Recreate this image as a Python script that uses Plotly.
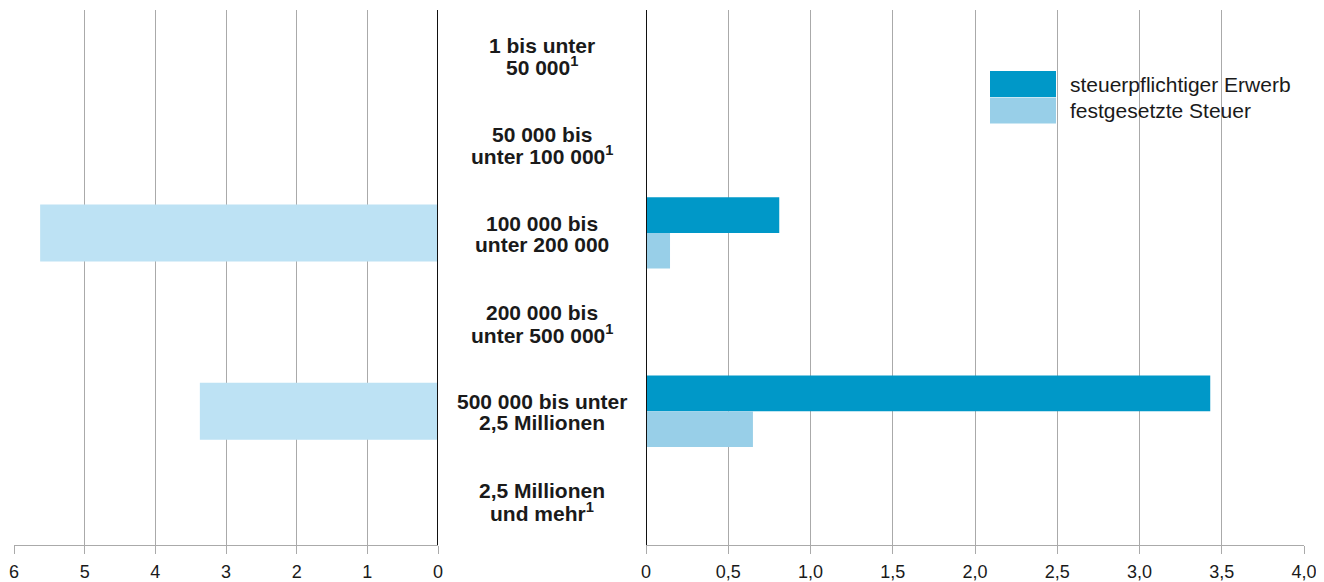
import plotly.graph_objects as go

categories = [
    "1 bis unter<br>50 000<sup>1</sup>",
    "50 000 bis<br>unter 100 000<sup>1</sup>",
    "100 000 bis<br>unter 200 000",
    "200 000 bis<br>unter 500 000<sup>1</sup>",
    "500 000 bis unter<br>2,5 Millionen",
    "2,5 Millionen<br>und mehr<sup>1</sup>",
]
cat_keys = ["c1", "c2", "c3", "c4", "c5", "c6"]

left_values = [None, None, 5.63, None, 3.37, None]
erwerb_values = [None, None, 0.81, None, 3.43, None]
steuer_values = [None, None, 0.146, None, 0.65, None]

left_ticks = [6, 5, 4, 3, 2, 1, 0]
left_ticktext = ["6", "5", "4", "3", "2", "1", "0"]
right_ticks = [0, 0.5, 1.0, 1.5, 2.0, 2.5, 3.0, 3.5, 4.0]
right_ticktext = ["0", "0,5", "1,0", "1,5", "2,0", "2,5", "3,0", "3,5", "4,0"]

legend_names = ["steuerpflichtiger Erwerb", "festgesetzte Steuer"]

C_DARK = "#0098c8"
C_LIGHT = "#98cfe8"
C_LEFT = "#bde2f4"
GRID = "#aaaaaa"
FONT = "Liberation Sans, Arial, sans-serif"

# the page body has an 8px default margin; size the figure to compensate
OFF = 8
W, H = 1324 - OFF, 582 - OFF
MT, MB = 10 - OFF, 37
PH = H - MT - MB


def px(xpx):
    return (xpx - OFF) / W


def py(ypx):
    return (H - MB - (ypx - OFF)) / PH


fig = go.Figure()

fig.add_trace(go.Bar(
    y=cat_keys, x=left_values, orientation="h", xaxis="x", yaxis="y",
    marker=dict(color=C_LEFT, line=dict(width=0)), width=0.64, offset=-0.32,
    showlegend=False, hoverinfo="x",
))
fig.add_trace(go.Bar(
    y=cat_keys, x=erwerb_values, orientation="h", xaxis="x2", yaxis="y",
    marker=dict(color=C_DARK, line=dict(width=0)), width=0.4, offset=-0.4,
    name=legend_names[0], showlegend=False,
))
fig.add_trace(go.Bar(
    y=cat_keys, x=steuer_values, orientation="h", xaxis="x2", yaxis="y",
    marker=dict(color=C_LIGHT, line=dict(width=0)), width=0.4, offset=0.0,
    name=legend_names[1], showlegend=False,
))

axis_common = dict(
    showgrid=True, gridcolor=GRID, gridwidth=1,
    showline=True, linecolor=GRID, linewidth=1,
    ticks="outside", ticklen=8, tickcolor=GRID, tickwidth=1,
    zeroline=False, anchor="y", automargin=False,
    tickfont=dict(family=FONT, size=18, color="#1a1a1a"),
    ticklabelstandoff=2,
    fixedrange=True,
)

fig.update_layout(
    width=W, height=H,
    margin=dict(l=0, r=0, t=MT, b=MB, autoexpand=False),
    paper_bgcolor="white", plot_bgcolor="white",
    barmode="overlay",
    separators=", ",
    xaxis=dict(domain=[px(14), px(438)], range=[6, 0],
               tickmode="array", tickvals=left_ticks, ticktext=left_ticktext,
               **axis_common),
    xaxis2=dict(domain=[px(646), px(1304)], range=[0, 4.0],
                tickmode="array", tickvals=right_ticks, ticktext=right_ticktext,
                **axis_common),
    yaxis=dict(type="category", categoryorder="array", categoryarray=cat_keys,
               range=[5.5, -0.5], showticklabels=False, showgrid=False,
               zeroline=False, showline=False, ticks="", fixedrange=True,
               automargin=False),
    font=dict(family=FONT, color="#1a1a1a"),
)

# zero lines (black)
fig.add_shape(type="line", xref="x", yref="paper", x0=0, x1=0, y0=0, y1=1,
              line=dict(color="#111111", width=2), layer="above")
fig.add_shape(type="line", xref="x2", yref="paper", x0=0, x1=0, y0=0, y1=1,
              line=dict(color="#111111", width=2), layer="above")

# category labels in the centre (two lines each, tight line spacing)
for key, label in zip(cat_keys, categories):
    lines = label.split("<br>")
    shifts = [10.5, -10.5] if len(lines) == 2 else [0]
    for line, shift in zip(lines, shifts):
        fig.add_annotation(
            x=px(542), xref="paper", y=key, yref="y", yshift=shift - 1,
            text="<b>" + line + "</b>", showarrow=False,
            xanchor="center", yanchor="middle", align="center",
            font=dict(family=FONT, size=21, color="#1a1a1a"),
        )

# custom legend
for i, (name, col) in enumerate(zip(legend_names, [C_DARK, C_LIGHT])):
    y0px = 71 + i * 26.5
    y1px = y0px + 26
    fig.add_shape(type="rect", xref="paper", yref="paper",
                  x0=px(990), x1=px(1056), y0=py(y1px), y1=py(y0px),
                  fillcolor=col, line=dict(width=0), layer="above")
    fig.add_annotation(
        x=px(1068), xref="paper", y=py((y0px + y1px) / 2), yref="paper",
        text=name, showarrow=False, xanchor="left", yanchor="middle",
        font=dict(family=FONT, size=21, color="#1a1a1a"),
    )

fig.write_html("out.html")
